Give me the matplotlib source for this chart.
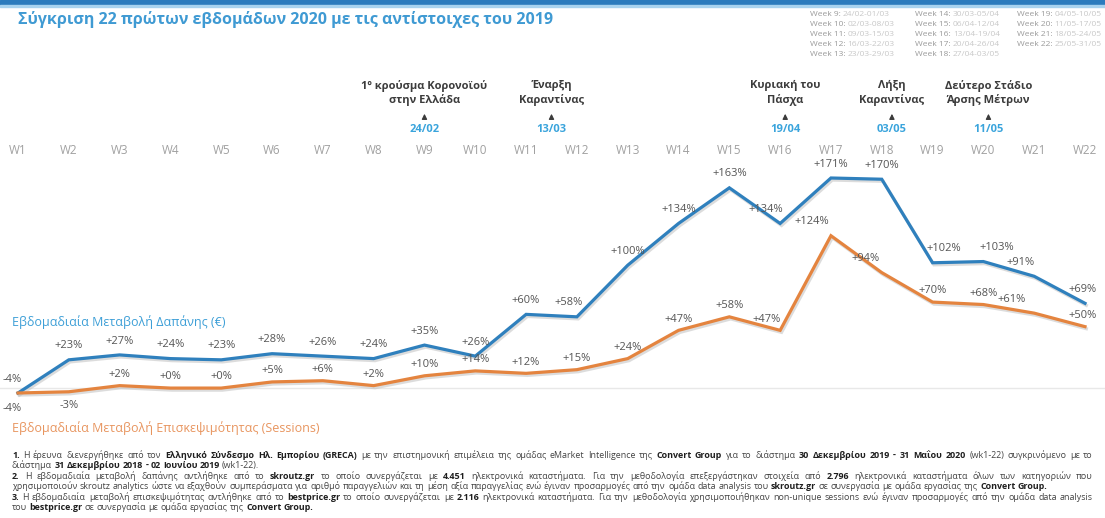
import matplotlib.pyplot as plt
import matplotlib.patheffects as pe
from matplotlib.patches import Rectangle
from matplotlib.transforms import blended_transform_factory

plt.rcParams['font.family'] = ['Open Sans', 'DejaVu Sans']

W, H = 1105, 518

weeks = [f"W{i}" for i in range(1, 23)]
spend = [-4, 23, 27, 24, 23, 28, 26, 24, 35, 26, 60, 58, 100, 134, 163, 134, 171, 170, 102, 103, 91, 69]
sessions = [-4, -3, 2, 0, 0, 5, 6, 2, 10, 14, 12, 15, 24, 47, 58, 47, 124, 94, 70, 68, 61, 50]

event_titles = ["1º κρούσμα Κορονοϊού\nστην Ελλάδα", "Έναρξη\nΚαραντίνας", "Κυριακή του\nΠάσχα",
                "Λήξη\nΚαραντίνας", "Δεύτερο Στάδιο\nΆρσης Μέτρων"]
event_dates = ["24/02", "13/03", "19/04", "03/05", "11/05"]
event_pos = [9, 11.5, 16.1, 18.2, 20.1]

week_ranges = [
    ("Week 9:", "24/02-01/03"), ("Week 10:", "02/03-08/03"), ("Week 11:", "09/03-15/03"),
    ("Week 12:", "16/03-22/03"), ("Week 13:", "23/03-29/03"), ("Week 14:", "30/03-05/04"),
    ("Week 15:", "06/04-12/04"), ("Week 16:", "13/04-19/04"), ("Week 17:", "20/04-26/04"),
    ("Week 18:", "27/04-03/05"), ("Week 19:", "04/05-10/05"), ("Week 20:", "11/05-17/05"),
    ("Week 21:", "18/05-24/05"), ("Week 22:", "25/05-31/05"),
]

# (segments, justified)
footnotes = [
    ([("1.", True), (" Η έρευνα διενεργήθηκε από τον ", False), ("Ελληνικό Σύνδεσμο Ηλ. Εμπορίου (GRECA)", True),
      (" με την επιστημονική επιμέλεια της ομάδας eMarket Intelligence της ", False), ("Convert Group", True),
      (" για το διάστημα ", False), ("30 Δεκεμβρίου 2019 - 31 Μαΐου 2020", True), (" (wk1-22) συγκρινόμενο με το", False)], True),
    ([("διάστημα ", False), ("31 Δεκεμβρίου 2018 - 02 Ιουνίου 2019", True), (" (wk1-22).", False)], False),
    ([("2.", True), (" Η εβδομαδιαία μεταβολή δαπάνης αντλήθηκε από το ", False), ("skroutz.gr", True),
      (" το οποίο συνεργάζεται με ", False), ("4.451", True),
      (" ηλεκτρονικά καταστήματα. Για την μεθοδολογία επεξεργάστηκαν στοιχεία από ", False), ("2.796", True),
      (" ηλεκτρονικά καταστήματα όλων των κατηγοριών που", False)], True),
    ([("χρησιμοποιούν skroutz analytics ώστε να εξαχθούν συμπεράσματα για αριθμό παραγγελιών και τη μέση αξία παραγγελίας ενώ έγιναν προσαρμογές από την ομάδα data analysis του ", False),
      ("skroutz.gr", True), (" σε συνεργασία με ομάδα εργασίας της ", False), ("Convert Group.", True)], False),
    ([("3.", True), (" Η εβδομαδιαία μεταβολή επισκεψιμότητας αντλήθηκε από το ", False), ("bestprice.gr", True),
      (" το οποίο συνεργάζεται με ", False), ("2.116", True),
      (" ηλεκτρονικά καταστήματα. Για την μεθοδολογία χρησιμοποιήθηκαν non-unique sessions ενώ έγιναν προσαρμογές από την ομάδα data analysis", False)], True),
    ([("του ", False), ("bestprice.gr", True), (" σε συνεργασία με ομάδα εργασίας της ", False), ("Convert Group.", True)], False),
]

BLUE = "#2f80bd"
ORANGE = "#e4843f"
LABEL_GRAY = "#555555"

fig = plt.figure(figsize=(W / 100, H / 100), dpi=100)
fig.patch.set_facecolor("white")
renderer = fig.canvas.get_renderer()

def fx(px):
    return px / W

def fy(px):
    return 1 - px / H

def width_of(t):
    return t.get_window_extent(renderer).width

# top band
fig.patches.append(Rectangle((0, fy(5)), 1, 5 / H, transform=fig.transFigure, color="#2c7bbd", zorder=0))
fig.patches.append(Rectangle((0, fy(7)), 1, 2 / H, transform=fig.transFigure, color="#a9d3ef", zorder=0))

fig.text(fx(18), fy(20), "Σύγκριση 22 πρώτων εβδομάδων 2020 με τις αντίστοιχες του 2019",
         fontsize=11.5, fontweight="bold", color="#3f9ad3", va="center", ha="left")

# week date legend (top right)
col_x = [810, 915, 1017]
for i, (wk, rng) in enumerate(week_ranges):
    col, row = divmod(i, 5)
    y = fy(15 + row * 9.8)
    t = fig.text(fx(col_x[col]), y, wk + " ", fontsize=6.0, color="#9a9a9a", va="center")
    fig.text(fx(col_x[col] + width_of(t)), y, rng, fontsize=6.0, color="#c8c8c8", va="center")

# main axes: W1 at px 18, W22 at px 1085; -4 at px 393, 171 at px 178
ax = fig.add_axes([fx(18), fy(393), fx(1085) - fx(18), (393 - 178) / H])
ax.set_xlim(1, 22)
ax.set_ylim(-4, 171)
for s in ax.spines.values():
    s.set_visible(False)
ax.set_yticks([])
x = list(range(1, 23))
ax.set_xticks(x)
ax.set_xticklabels(weeks)
ax.xaxis.tick_top()
ax.tick_params(axis="x", length=0, pad=15, labelsize=8.5, labelcolor="#a0a0a0")
ax.patch.set_alpha(0)

ax.axhline(0, xmin=-0.03, xmax=1.03, color="#e8e8e8", lw=1, clip_on=False, zorder=1)

shadow = [pe.SimpleLineShadow(offset=(1, -1.5), shadow_color="#bbbbbb", alpha=0.5), pe.Normal()]
ax.plot(x, spend, color=BLUE, lw=2.3, clip_on=False, zorder=3, path_effects=shadow, solid_joinstyle="miter")
ax.plot(x, sessions, color=ORANGE, lw=2.3, clip_on=False, zorder=3, path_effects=shadow, solid_joinstyle="miter")

def fmt(v):
    return f"{v:+d}%" if v != 0 else "+0%"

spend_off = {0: (-4, 10), 11: (-6, 10), 15: (-10, 10), 18: (8, 10), 19: (10, 10), 20: (-10, 10), 21: (-2, 10)}
sess_off = {0: (-4, -11), 1: (0, -10), 15: (-10, 8), 16: (-14, 10), 17: (-12, 10), 20: (-16, 10), 21: (-2, 8)}
for i, v in enumerate(spend):
    dx, dy = spend_off.get(i, (0, 10))
    ax.annotate(fmt(v), (x[i], v), xytext=(dx, dy), textcoords="offset points", ha="center", va="center",
                fontsize=8, color=LABEL_GRAY, annotation_clip=False, zorder=4)
for i, v in enumerate(sessions):
    dx, dy = sess_off.get(i, (0, 8))
    ax.annotate(fmt(v), (x[i], v), xytext=(dx, dy), textcoords="offset points", ha="center", va="center",
                fontsize=8, color=LABEL_GRAY, annotation_clip=False, zorder=4)

# event markers above the week axis
bt = blended_transform_factory(ax.transData, fig.transFigure)
for pos, title, date in zip(event_pos, event_titles, event_dates):
    ax.text(pos, fy(93), title, transform=bt, ha="center", va="center", fontsize=8, fontweight="bold",
            color="#3c3c3c", linespacing=1.25)
    ax.annotate("", xy=(pos, fy(111)), xytext=(pos, fy(121)), xycoords=bt, textcoords=bt,
                arrowprops=dict(arrowstyle="-|>,head_width=0.15,head_length=0.3", color="#3c3c3c", lw=0.9))
    ax.text(pos, fy(130), date, transform=bt, ha="center", va="center", fontsize=8, fontweight="bold",
            color="#3aa4dc")

# series labels
fig.text(fx(12), fy(322), "Εβδομαδιαία Μεταβολή Δαπάνης (€)", fontsize=9, color="#3d9fd7", va="center")
fig.text(fx(12), fy(428), "Εβδομαδιαία Μεταβολή Επισκεψιμότητας (Sessions)", fontsize=9, color="#e8955f",
         va="center")

# footnotes with bold segments, justified like the source
FN_SIZE = 6.4
probe1 = fig.text(0, 0, "a a", fontsize=FN_SIZE)
probe2 = fig.text(0, 0, "aa", fontsize=FN_SIZE)
space_w = width_of(probe1) - width_of(probe2)
probe1.remove()
probe2.remove()

line_y = [458, 468, 479, 489, 500, 510]
left, right = 12, 1093
for (segs, justify), ly in zip(footnotes, line_y):
    tokens = []
    gap = False
    for txt, bold in segs:
        for j, part in enumerate(txt.split(" ")):
            if j > 0:
                gap = True
            if part:
                tokens.append((part, bold, gap))
                gap = False
    artists = []
    for part, bold, g in tokens:
        t = fig.text(0, fy(ly), part, fontsize=FN_SIZE, fontweight="bold" if bold else "normal",
                     color="#1e1e1e" if bold else "#444444", va="baseline", ha="left")
        artists.append((t, width_of(t), g))
    n_gaps = sum(1 for _, _, g in artists if g)
    natural = sum(w for _, w, _ in artists) + n_gaps * space_w
    gw = space_w + ((right - left - natural) / n_gaps if justify and n_gaps else 0)
    cx = left
    for t, w, g in artists:
        if g:
            cx += gw
        t.set_x(fx(cx))
        cx += w

fig.savefig("out.png", dpi=100, facecolor="white")
